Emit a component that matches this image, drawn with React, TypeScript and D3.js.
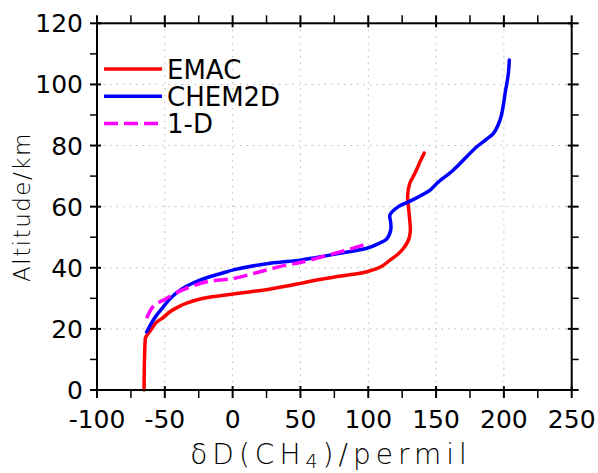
import React from "react";
import * as d3 from "d3";

const xTicks = [-100, -50, 0, 50, 100, 150, 200, 250];
const yTicks = [0, 20, 40, 60, 80, 100, 120];
const xMinor = [-75, -25, 25, 75, 125, 175, 225];
const yMinor = [10, 30, 50, 70, 90, 110];

const emacVal = [-65.3, -65, -64.5, -64.3, -63.4, -60, -56.5, -51, -46.2, -40, -33.9, -21.6, -12, 0.5, 27, 50, 62, 80, 99, 110, 116, 122, 126, 129.6, 131, 130.5, 129.6, 129, 130.5, 134.5, 138, 141.2];
const emacAlt = [0, 10, 16, 17, 17.8, 19.8, 22, 23.8, 25.6, 27.2, 28.4, 30, 30.7, 31.4, 33, 34.9, 36, 37.3, 38.7, 40.5, 42.5, 44.5, 46.4, 49, 52, 56, 60, 63.3, 67.5, 71, 74.5, 77.5];

const chemVal = [-63.4, -60, -56, -51, -46, -40, -33, -25, -15, -5, 0.5, 27.6, 50, 62, 80, 99, 108, 113.6, 116.6, 116.5, 116, 122.2, 130.8, 145.6, 150.5, 162.8, 180, 187, 192.3, 197.2, 199.5, 200.9, 203.3, 204];
const chemAlt = [19, 21.8, 24.5, 27.3, 29.9, 32.3, 34.2, 35.8, 37.3, 38.6, 39.3, 41.5, 42.5, 43.4, 44.8, 46.4, 48, 49.4, 52.4, 55, 57.3, 60, 61.8, 65.4, 67.6, 72, 79.6, 82, 84, 88.4, 93, 97.1, 103.6, 108];

const oneDVal = [-63.4, -59.7, -56, -51, -43, -33.9, -19.1, 0.5, 20.2, 39.9, 49.7, 76.8, 92.7, 97];
const oneDAlt = [23.5, 26.7, 28.3, 29.4, 31.5, 33.3, 35.4, 36.5, 38.7, 40.9, 41.7, 44.9, 46.9, 47.6];

const seriesNames = ["EMAC", "CHEM2D", "1-D"];
const seriesColors = ["#ff0000", "#0000ff", "#ff00ff"];

export default function App() {
  const W = 598, H = 473;
  const L = 97, R = 571.7, T = 23.3, B = 390;
  const x = d3.scaleLinear().domain([-100, 250]).range([L, R]);
  const y = d3.scaleLinear().domain([0, 120]).range([B, T]);
  const line = d3
    .line<[number, number]>()
    .x((d) => x(d[0]))
    .y((d) => y(d[1]))
    .curve(d3.curveCatmullRom.alpha(0.5));
  const zip = (a: number[], b: number[]) => a.map((v, i) => [v, b[i]] as [number, number]);
  const series = [zip(emacVal, emacAlt), zip(chemVal, chemAlt), zip(oneDVal, oneDAlt)];
  const font = "'DejaVu Sans', sans-serif";
  const grid = "#b8b8b8";
  return (
    <svg width={W} height={H} style={{ position: "absolute", left: 0, top: 0, background: "#fff" }}>
      <rect x={0} y={0} width={W} height={H} fill="#fff" />
      {xTicks.slice(1, -1).map((t) => (
        <line key={"gx" + t} x1={x(t)} x2={x(t)} y1={T} y2={B} stroke={grid} strokeWidth={1} strokeDasharray="1.5,5" />
      ))}
      {yTicks.slice(1, -1).map((t) => (
        <line key={"gy" + t} x1={L} x2={R} y1={y(t)} y2={y(t)} stroke={grid} strokeWidth={1} strokeDasharray="1.5,5" />
      ))}
      {series.map((s, i) => (
        <path
          key={"s" + i}
          d={line(s) || ""}
          fill="none"
          stroke={seriesColors[i]}
          strokeWidth={3.5}
          strokeLinejoin="round"
          strokeLinecap={i === 2 ? "butt" : "round"}
          strokeDasharray={i === 2 ? "14,6" : undefined}
        />
      ))}
      <rect x={L} y={T} width={R - L} height={B - T} fill="none" stroke="#000" strokeWidth={2} />
      {xTicks.map((t) => (
        <g key={"xt" + t}>
          <line x1={x(t)} x2={x(t)} y1={B - 4} y2={B + 8} stroke="#000" strokeWidth={2} />
          <line x1={x(t)} x2={x(t)} y1={T + 4} y2={T - 8} stroke="#000" strokeWidth={2} />
          <text x={x(t)} y={428} textAnchor="middle" fontFamily={font} fontSize={25} fill="#000">
            {t}
          </text>
        </g>
      ))}
      {xMinor.map((t) => (
        <g key={"xm" + t}>
          <line x1={x(t)} x2={x(t)} y1={B} y2={B + 8} stroke="#000" strokeWidth={1.5} />
          <line x1={x(t)} x2={x(t)} y1={T} y2={T - 8} stroke="#000" strokeWidth={1.5} />
        </g>
      ))}
      {yTicks.map((t) => (
        <g key={"yt" + t}>
          <line x1={L - 7} x2={L + 4} y1={y(t)} y2={y(t)} stroke="#000" strokeWidth={2} />
          <line x1={R + 7} x2={R - 4} y1={y(t)} y2={y(t)} stroke="#000" strokeWidth={2} />
          <text x={83} y={y(t) + 9} textAnchor="end" fontFamily={font} fontSize={25} fill="#000">
            {t}
          </text>
        </g>
      ))}
      {yMinor.map((t) => (
        <g key={"ym" + t}>
          <line x1={L - 7} x2={L} y1={y(t)} y2={y(t)} stroke="#000" strokeWidth={1.5} />
          <line x1={R + 7} x2={R} y1={y(t)} y2={y(t)} stroke="#000" strokeWidth={1.5} />
        </g>
      ))}
      {seriesNames.map((n, i) => (
        <g key={"lg" + i}>
          <line
            x1={104}
            x2={162}
            y1={69 + i * 27.2}
            y2={69 + i * 27.2}
            stroke={seriesColors[i]}
            strokeWidth={3.5}
            strokeDasharray={i === 2 ? "14,6" : undefined}
          />
          <text x={167} y={78.5 + i * 27.2} fontFamily={font} fontSize={26} fill="#000">
            {n}
          </text>
        </g>
      ))}
      <text
        x={331}
        y={464}
        textAnchor="middle"
        fontFamily={font}
        fontWeight={200}
        fontSize={28}
        letterSpacing={5}
        fill="#000"
      >
        δD(CH
        <tspan fontSize={19} dy={4}>4</tspan>
        <tspan dy={-4}>)/permil</tspan>
      </text>
      <text
        transform={`translate(30,207) rotate(-90)`}
        textAnchor="middle"
        fontFamily={font}
        fontWeight={200}
        fontSize={23}
        letterSpacing={1.5}
        fill="#000"
      >
        Altitude/km
      </text>
    </svg>
  );
}
